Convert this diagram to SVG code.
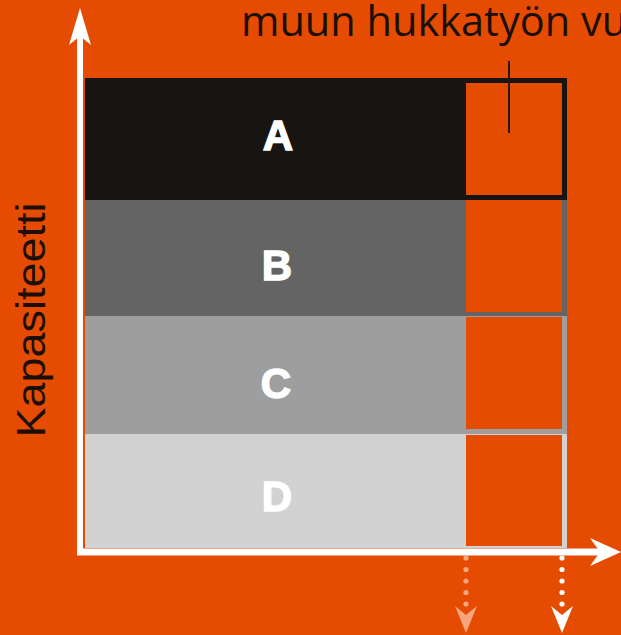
<svg xmlns="http://www.w3.org/2000/svg" width="621" height="635" viewBox="0 0 621 635">
<style>
.lbl{font-family:"Liberation Sans",Arial,sans-serif;font-weight:bold;font-size:42px;fill:#ffffff;stroke:#ffffff;stroke-width:1.4;text-anchor:middle}
.box{fill:#E54C02}
.dark{fill:#1c0f08}
</style>
<rect x="0" y="0" width="621" height="635" fill="#E54C02"/>
<g id="bar-A">
<rect x="85" y="78" width="482" height="122" fill="#171412"/>
<rect class="box" x="466" y="83" width="96" height="112"/>
<text class="lbl" x="278" y="150">A</text>
</g>
<g id="bar-B">
<rect x="85" y="200" width="482" height="116" fill="#646464"/>
<rect class="box" x="466" y="200" width="96" height="112"/>
<text class="lbl" x="277" y="280">B</text>
</g>
<g id="bar-C">
<rect x="85" y="316" width="482" height="118" fill="#9e9e9e"/>
<rect class="box" x="466" y="317" width="96" height="112"/>
<text class="lbl" x="276" y="398">C</text>
</g>
<g id="bar-D">
<rect x="85" y="434" width="482" height="114" fill="#d2d2d2"/>
<rect class="box" x="466" y="435" width="96" height="111"/>
<text class="lbl" x="277" y="511">D</text>
</g>
<g id="label-top">
<text class="dark" x="241" y="36" font-family="'Open Sans','Noto Sans',sans-serif" font-size="41.5">muun hukkatyön vu</text>
</g>
<g id="label-y">
<text class="dark" transform="translate(45,320) rotate(-90)" text-anchor="middle" font-family="'Liberation Sans',Arial,sans-serif" font-size="41" textLength="235" lengthAdjust="spacingAndGlyphs">Kapasiteetti</text>
</g>
<g id="connectors">
<line x1="509" y1="61" x2="509" y2="133" stroke="#2a1505" stroke-width="2"/>
<line x1="80" y1="30" x2="80" y2="555" stroke="#ffffff" stroke-width="6"/>
<polygon points="80,8 91,45 80,36 69,45" fill="#ffffff"/>
<line x1="77" y1="552" x2="602" y2="552" stroke="#ffffff" stroke-width="7"/>
<polygon points="621,552 590,566 600,552 590,538" fill="#ffffff"/>
<g fill="#F7A57C">
<circle cx="466" cy="558" r="2.6"/><circle cx="466" cy="569.5" r="2.6"/><circle cx="466" cy="581" r="2.6"/><circle cx="466" cy="592.5" r="2.6"/><circle cx="466" cy="604" r="2.6"/>
<polygon points="466,633 455,606 466,615 477,606"/>
</g>
<g fill="#ffffff">
<circle cx="562" cy="558" r="2.6"/><circle cx="562" cy="569.5" r="2.6"/><circle cx="562" cy="581" r="2.6"/><circle cx="562" cy="592.5" r="2.6"/><circle cx="562" cy="604" r="2.6"/>
<polygon points="562,633 551,606 562,615 573,606"/>
</g>
</g>
</svg>
